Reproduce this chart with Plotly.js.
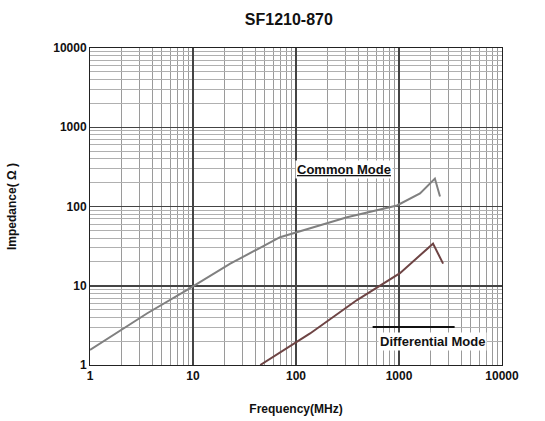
<!DOCTYPE html>
<html>
<head>
<meta charset="utf-8">
<script src="https://cdn.plot.ly/plotly-3.0.1.min.js"></script>
<style>html,body{margin:0;padding:0;background:#fff;}#chart{width:545px;height:421px;}</style>
</head>
<body>
<div id="chart"></div>
<script>
// Common mode impedance (Ohm) vs frequency (MHz)
const cmFreq = [1, 3.6, 8.7, 23, 70, 313, 955, 1600, 2230, 2500];
const cmZ    = [1.55, 4.5, 8.8, 19, 41, 73, 103, 146, 225, 134];
// Differential mode impedance
const dmFreq = [45, 137, 391, 1022, 2140, 2680];
const dmZ    = [1.0, 2.5, 6.6, 14.4, 34, 19];

const tickVals = [1, 10, 100, 1000, 10000];
const xTickText = ['1', '10', '100', '1000', '10000'];
const yTickText = ['1', '10', '100', '1000', '10000'];

const fontFam = 'Liberation Sans, Arial, sans-serif';

const traces = [
  {x: cmFreq, y: cmZ, mode: 'lines', name: 'Common Mode',
   line: {color: '#808080', width: 2}},
  {x: dmFreq, y: dmZ, mode: 'lines', name: 'Differential Mode',
   line: {color: '#6e4444', width: 2}}
];

const layout = {
  width: 545, height: 421,
  margin: {l: 90, r: 43, t: 48, b: 56},
  paper_bgcolor: '#fff', plot_bgcolor: '#fff',
  showlegend: false,
  title: {text: '<b>SF1210-870</b>', x: 0.53, xanchor: 'center', y: 0.955, yanchor: 'middle',
          font: {family: fontFam, size: 16, color: '#111'}},
  xaxis: {type: 'log', range: [0, 4], tickvals: tickVals, ticktext: xTickText,
          showgrid: true, gridcolor: '#444', gridwidth: 1.5,
          minor: {dtick: 'D1', showgrid: true, gridcolor: '#9a9a9a', gridwidth: 1},
          linecolor: '#222', showline: true, mirror: true, ticks: '',
          tickfont: {family: fontFam, size: 12, color: '#111', weight: 'bold'},
          title: {text: '<b>Frequency(MHz)</b>', standoff: 22, font: {family: fontFam, size: 12, color: '#111'}}},
  yaxis: {type: 'log', range: [0, 4], tickvals: tickVals, ticktext: yTickText,
          showgrid: true, gridcolor: '#444', gridwidth: 1.5,
          minor: {dtick: 'D1', showgrid: true, gridcolor: '#b0b0b0', gridwidth: 1},
          linecolor: '#222', showline: true, mirror: true, ticks: '',
          tickfont: {family: fontFam, size: 12, color: '#111', weight: 'bold'},
          title: {text: '<b>Impedance( Ω )</b>', standoff: 34, font: {family: fontFam, size: 12, color: '#111'}}},
  annotations: [
    {x: Math.log10(290), y: Math.log10(290), xref: 'x', yref: 'y', text: '<b><u>Common Mode</u></b>',
     showarrow: false, bgcolor: '#fff', font: {family: fontFam, size: 13, color: '#111'}},
    {x: Math.log10(2100), y: Math.log10(2.0), xref: 'x', yref: 'y', text: '<b>Differential Mode</b>',
     showarrow: false, bgcolor: '#fff', font: {family: fontFam, size: 13, color: '#111'}}
  ],
  shapes: [
    {type: 'line', xref: 'paper', yref: 'paper', x0: 0.686, x1: 0.885, y0: 0.12, y1: 0.12,
     line: {color: '#111', width: 2}}
  ]
};

Plotly.newPlot('chart', traces, layout, {displayModeBar: false, staticPlot: true});
</script>
</body>
</html>
